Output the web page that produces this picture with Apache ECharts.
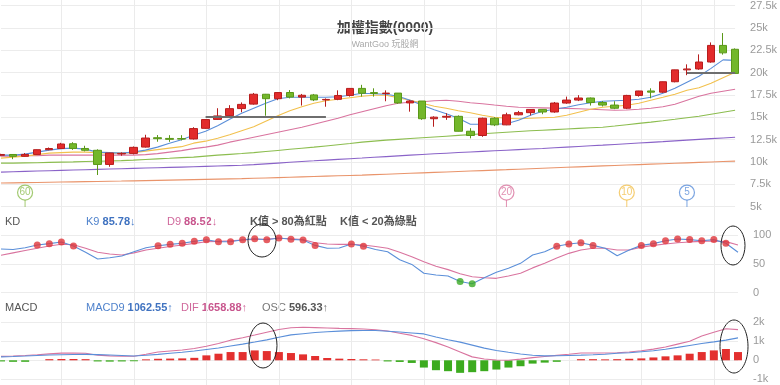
<!DOCTYPE html>
<html><head><meta charset="utf-8">
<script src="https://cdn.jsdelivr.net/npm/echarts@6/dist/echarts.min.js"></script>
<style>html,body{margin:0;padding:0;background:#fff}#c{width:780px;height:385px}</style>
</head><body><div id="c"></div>
<script>
const months = ['2019/07','2019/08','2019/09','2019/10','2019/11','2019/12',
 '2020/01','2020/02','2020/03','2020/04','2020/05','2020/06','2020/07','2020/08','2020/09','2020/10','2020/11','2020/12',
 '2021/01','2021/02','2021/03','2021/04','2021/05','2021/06','2021/07','2021/08','2021/09','2021/10','2021/11','2021/12',
 '2022/01','2022/02','2022/03','2022/04','2022/05','2022/06','2022/07','2022/08','2022/09','2022/10','2022/11','2022/12',
 '2023/01','2023/02','2023/03','2023/04','2023/05','2023/06','2023/07','2023/08','2023/09','2023/10','2023/11','2023/12',
 '2024/01','2024/02','2024/03','2024/04','2024/05','2024/06','2024/07','2024/08'];

const opens = [10730,10823,10618,10829,11358,11490,12026,11495,11292,9708,
 10880,10942,11650,12700,12620,12600,12560,13750,14750,15170,
 15960,16460,17567,17068,17760,17250,17490,16935,17000,17430,
 18220,17750,17650,17693,16593,16807,14826,15000,15095,13425,
 12949,14879,14138,15265,15504,15869,15579,16579,16916,17145,
 16635,16354,16001,17433,17931,17800,18966,20294,20397,21175,
 23032,22600];
const closes = [10823,10618,10829,11358,11490,11997,11495,11292,9708,10992,
 10942,11621,12665,12592,12516,12546,13722,14732,15138,15953,
 16431,17567,17068,17755,17247,17450,16935,16987,17428,18219,
 17674,17652,17693,16593,16807,14826,15000,15095,13425,12949,
 14879,14138,15265,15504,15869,15579,16579,16916,17145,16635,
 16354,16001,17433,17931,17800,18966,20294,20397,21175,23032,
 22199,19900];
const lows = [10620,10300,10580,10780,11300,11430,11340,11170,8523,9452,
 10680,10830,11600,12250,12240,12400,12500,13700,14700,15100,
 15550,16400,15159,16900,17100,16300,16800,16170,16900,17300,
 17300,17300,16780,16500,15616,14700,13928,14700,13400,12629,
 12800,14000,14100,15200,15200,15330,15500,16500,16800,16300,
 16200,15900,15900,17300,17115,17700,18900,19700,20300,21100,
 22000,19850];
const highs = [10900,10860,10980,11380,11605,12126,12197,11800,11400,11005,
 11060,11720,13031,13000,12984,12984,13877,14760,16000,16341,
 16650,17709,17600,17800,18034,17600,17600,17100,18000,18250,
 18619,18230,18000,17700,16900,16807,15100,15440,15200,13765,
 14950,15000,15500,15700,15900,15900,16700,17300,17463,17200,
 16800,16780,17500,17950,18232,18990,20310,20912,22028,23368,
 24416,22700];

const ma5 = [10751,10751,10862,11085,11309,11476,11532,11420,11085,11030,
 10974,11085,11309,11644,12090,12481,12984,13430,14045,14770,
 15440,15999,16557,17059,17227,17227,17227,17227,17283,17450,
 17674,17618,17562,17339,16892,16334,15831,15385,14882,14212,
 14212,14212,14268,14659,15217,15664,15887,16111,16390,16613,
 16780,16836,16892,17004,17227,17674,18232,18902,19572,20465,
 21414,21358];
const ma10 = [10416,10527,10639,10806,10974,11030,11085,11085,11030,10974,
 10974,11030,11197,11365,11532,11699,12090,12314,12649,13039,
 13486,13933,14547,15161,15720,16167,16557,16836,17004,17171,
 17339,17450,17450,17171,16892,16557,16222,15999,15720,15496,
 15217,14994,14882,14826,14882,14938,14994,15217,15552,15887,
 16111,16222,16334,16557,16900,17227,17562,18008,18288,18790,
 19404,20018];
const ma20 = [10639,10639,10695,10695,10751,10751,10751,10751,10751,10751,
 10751,10751,10806,10918,11085,11253,11476,11644,11867,12202,
 12481,12760,13039,13319,13598,13877,14212,14547,14882,15273,
 15608,15943,16278,16557,16669,16724,16836,16892,16780,16613,
 16501,16356,16222,16111,16077,16044,16010,15988,15943,15887,
 15831,15775,15798,15887,15999,16167,16446,16892,17339,17674,
 17897,18120];
const ma60 = [9857,9857,9880,9900,9935,9969,10000,10035,10070,10100,
 10136,10192,10260,10326,10393,10471,10527,10639,10751,10840,
 10930,11030,11150,11275,11400,11520,11644,11780,11912,12046,
 12202,12314,12425,12515,12605,12695,12783,12872,12962,13050,
 13140,13230,13319,13397,13475,13542,13610,13677,13743,13810,
 13877,14012,14156,14301,14447,14603,14770,14938,15105,15329,
 15552,15775];
const ma120 = [8852,8890,8928,8966,9004,9042,9080,9118,9156,9194,
 9232,9268,9304,9340,9376,9411,9450,9490,9530,9570,
 9612,9690,9775,9860,9948,10035,10113,10192,10270,10349,
 10427,10507,10588,10668,10749,10829,10898,10968,11037,11106,
 11175,11240,11305,11370,11434,11499,11573,11646,11720,11793,
 11867,11945,12023,12102,12180,12258,12342,12425,12509,12593,
 12676,12760];
const ma240 = [7624,7646,7668,7690,7713,7735,7758,7780,7802,7825,
 7847,7874,7900,7927,7954,7981,8008,8035,8061,8088,
 8115,8155,8195,8236,8276,8316,8356,8396,8437,8477,
 8517,8567,8618,8668,8718,8768,8819,8869,8920,8970,
 9020,9073,9125,9178,9230,9283,9335,9388,9440,9493,
 9545,9594,9642,9691,9740,9789,9837,9886,9935,9983,
 10032,10081];

const kValues = [75.7,75,78,82.7,85,88,81,70,58.4,60.7,
 63.6,71,78,81.5,83.8,85.6,89,91.9,88.4,88.4,
 91.9,93.6,91.9,94.8,92.5,91.3,82,77,77.5,84.4,
 80.4,75,71,57,49,33.6,30.7,28.9,19.5,15.6,
 26,35.3,42.2,50.9,65.3,71,80.4,84.4,86.7,82,
 77,64,74,82,85,90,93,92,90,92,
 85.78,70];
const dValues = [65,69,73,77,81,84,83,77,70,67,
 65.3,69,74,77,80,82.7,85.5,88.4,89,90,
 91.3,92.5,93,94.3,93.5,92,86.7,84.5,83.8,84,
 82.7,80,77,70,62.4,53.8,46,40,33,27.7,
 26,24.9,29,33.6,43,50.9,60,68.2,74,77,
 77,74,74,79,82,84.5,86.7,88,89,89.6,
 88.52,82.7];

const dif = [208,225,250,290,340,378,385,375,270,235,
 210,210,320,440,490,540,620,740,880,1060,
 1190,1330,1476,1620,1710,1736,1720,1700,1680,1665,
 1650,1610,1540,1420,1310,1130,930,700,440,180,
 70,15,0,60,139,200,260,320,382,385,
 385,400,440,500,590,700,850,1000,1280,1480,
 1658.88,1615];
const macd9 = [180,200,225,255,280,295,305,312,300,280,
 255,226,265,312,370,420,490,570,650,750,
 850,960,1076,1210,1340,1400,1460,1500,1535,1560,
 1565,1565,1530,1490,1440,1389,1230,1080,955,800,
 640,520,420,330,265,235,240,255,270,290,
 320,370,400,450,500,580,680,781,880,970,
 1062.55,1180];
const osc = [-60,-80,-80,0,60,70,70,60,-60,-70,
 -60,-50,50,80,90,100,130,260,347,434,
 434,521,486,434,382,312,226,122,87,70,
 52,40,-60,-87,-139,-382,-521,-573,-660,-625,
 -573,-486,-382,-312,-174,-122,-80,0,60,60,
 50,60,80,100,150,208,260,347,434,521,
 596.33,434];

const priceTicks = {min:5000, max:27500, step:2500};
const kdTicks = {min:0, max:100, step:50};
const macdTicks = {min:-1000, max:2000, step:1000};

const supportLevels = [
 {from:'2020/12', to:'2021/10', value:15000},
 {from:'2024/04', to:'2024/08', value:20000}
];
const markerLabels = ['60','20','10','5'];
const markerAt = ['2019/09','2023/01','2023/11','2024/04'];

const C = {red:'#e22b2b', redB:'#b71d1d', green:'#73b72b', greenB:'#5a9818',
 blue:'#5b8fd9', yellow:'#f2c14e', pink:'#d9749f', lime:'#8cbd4f', purple:'#8a63c8', orange:'#e9946b'};
const markerColors = [C.lime, C.pink, C.yellow, C.blue];
const FONT = 'Arial, "Liberation Sans", "Noto Sans CJK TC", sans-serif';
const HF = '11px ' + FONT, HB = 'bold 11px ' + FONT;
const GL = 1, GR = 42;

const chart = echarts.init(document.getElementById('c'));
function xAx(gi, split){
  return {type:'category', gridIndex:gi, data:months, boundaryGap:false,
    axisLine:{show:false}, axisTick:{show:false}, axisLabel:{show:false},
    axisPointer:{show:false},
    splitLine:{show:!!split, interval:function(i){return i%6===5;}, lineStyle:{color:'#ebebeb', width:1}}};
}
function yAx(gi, t, fmt){
  return {type:'value', gridIndex:gi, position:'right', min:t.min, max:t.max, interval:t.step,
    axisLine:{show:false}, axisTick:{show:false},
    axisLabel:{color:'#9a9a9a', fontSize:11, fontFamily:FONT, margin:15, formatter:fmt},
    splitLine:{lineStyle:{color:'#ececec', width:1}}};
}
function maLine(name, data, color){
  return {name, type:'line', xAxisIndex:0, yAxisIndex:0, data, showSymbol:false, symbol:'none',
    lineStyle:{color, width:1.1}, z:2, silent:true};
}
const option = {
  animation:false,
  grid:[
    {left:GL, right:GR, top:5, height:201.5},
    {left:GL, right:GR, top:235, height:57.7},
    {left:GL, right:GR, top:322.3, height:57},
    {left:GL, right:GR, top:0, bottom:0}
  ],
  xAxis:[xAx(0,false), xAx(1,false), xAx(2,false), xAx(3,true)],
  yAxis:[
    yAx(0, priceTicks, v => (v/1000)+'k'),
    yAx(1, kdTicks, v => String(v)),
    yAx(2, macdTicks, v => v===0 ? '0' : (v/1000)+'k'),
    {type:'value', gridIndex:3, show:false, splitLine:{show:false}}
  ],
  series:[
    maLine('MA240', ma240, C.orange),
    maLine('MA120', ma120, C.purple),
    maLine('MA60', ma60, C.lime),
    maLine('MA20', ma20, C.pink),
    maLine('MA10', ma10, C.yellow),
    maLine('MA5', ma5, C.blue),
    {type:'candlestick', xAxisIndex:0, yAxisIndex:0, z:3, clip:false, barWidth:8,
     data: months.map((m,i)=>[opens[i], closes[i], lows[i], highs[i]]),
     itemStyle:{color:C.red, color0:C.green, borderColor:C.redB, borderColor0:C.greenB, borderWidth:1},
     markLine:{silent:true, symbol:['none','none'], label:{show:false},
       lineStyle:{color:'#6e6e6e', width:2, type:'solid'},
       data: supportLevels.map(s=>[{coord:[s.from, s.value]},{coord:[s.to, s.value]}])}
    },
    {type:'scatter', xAxisIndex:0, yAxisIndex:0, z:4, silent:true,
     symbol:'rect', symbolSize:[1,7], symbolOffset:[0,11],
     data: markerAt.map((m,i)=>({value:[m, 6560], itemStyle:{color:markerColors[i]}}))},
    {type:'scatter', xAxisIndex:0, yAxisIndex:0, z:5, silent:true,
     symbol:'circle', symbolSize:15,
     data: markerAt.map((m,i)=>({value:[m, 6560],
        itemStyle:{color:'#fff', borderColor:markerColors[i], borderWidth:1.2},
        label:{show:true, formatter:markerLabels[i], color:markerColors[i], fontSize:10, fontFamily:FONT, position:'inside'}}))},
    {name:'K9', type:'line', xAxisIndex:1, yAxisIndex:1, data:kValues, showSymbol:false, symbol:'none',
     lineStyle:{color:C.blue, width:1.1}, z:3},
    {name:'D9', type:'line', xAxisIndex:1, yAxisIndex:1, data:dValues, showSymbol:false, symbol:'none',
     lineStyle:{color:C.pink, width:1.1}, z:2},
    {type:'scatter', xAxisIndex:1, yAxisIndex:1, z:5, symbolSize:7, itemStyle:{color:'#e0363b'},
     data: kValues.map((v,i)=> v>80 ? [months[i], v] : null).filter(Boolean)},
    {type:'scatter', xAxisIndex:1, yAxisIndex:1, z:5, symbolSize:7, itemStyle:{color:'#3aa923'},
     data: kValues.map((v,i)=> v<20 ? [months[i], v] : null).filter(Boolean)},
    {name:'OSC', type:'bar', xAxisIndex:2, yAxisIndex:2, barWidth:8, z:2,
     data: osc.map(v=>({value:v, itemStyle:{color: v>=0 ? '#e3302f' : '#3cab1f'}}))},
    {name:'DIF', type:'line', xAxisIndex:2, yAxisIndex:2, data:dif, showSymbol:false, symbol:'none',
     lineStyle:{color:C.pink, width:1.1}, z:3},
    {name:'MACD9', type:'line', xAxisIndex:2, yAxisIndex:2, data:macd9, showSymbol:false, symbol:'none',
     lineStyle:{color:C.blue, width:1.1}, z:3}
  ],
  graphic:[
    {type:'text', x:385, y:28.5, style:{text:'加權指數(0000)', fill:'#444', font:'bold 14px '+FONT, align:'center', verticalAlign:'middle'}},
    {type:'text', x:385, y:45, style:{text:'WantGoo 玩股網', fill:'#aaa', font:'9px '+FONT, align:'center', verticalAlign:'middle'}},
    {type:'text', x:5, y:222, style:{text:'KD', fill:'#555', font:HF, verticalAlign:'middle'}},
    {type:'text', x:86, y:222, style:{text:'{a|K9 }{b|85.78}{a|↓}', verticalAlign:'middle',
      rich:{a:{fill:'#4f82cc', font:HF}, b:{fill:'#3f72c0', font:HB}}}},
    {type:'text', x:167, y:222, style:{text:'{a|D9 }{b|88.52}{a|↓}', verticalAlign:'middle',
      rich:{a:{fill:'#d0699c', font:HF}, b:{fill:'#c8558d', font:HB}}}},
    {type:'text', x:250, y:222, style:{text:'K值 > 80為紅點', fill:'#555', font:HB, verticalAlign:'middle'}},
    {type:'text', x:340, y:222, style:{text:'K值 < 20為綠點', fill:'#555', font:HB, verticalAlign:'middle'}},
    {type:'text', x:5, y:307.5, style:{text:'MACD', fill:'#555', font:HF, verticalAlign:'middle'}},
    {type:'text', x:86, y:307.5, style:{text:'{a|MACD9 }{b|1062.55}{a|↑}', verticalAlign:'middle',
      rich:{a:{fill:'#4f82cc', font:HF}, b:{fill:'#3f72c0', font:HB}}}},
    {type:'text', x:181, y:307.5, style:{text:'{a|DIF }{b|1658.88}{a|↑}', verticalAlign:'middle',
      rich:{a:{fill:'#d0699c', font:HF}, b:{fill:'#c8558d', font:HB}}}},
    {type:'text', x:262, y:307.5, style:{text:'{a|OSC }{b|596.33}{a|↑}', verticalAlign:'middle',
      rich:{a:{fill:'#777', font:HF}, b:{fill:'#555', font:HB}}}},
    {type:'ellipse', shape:{cx:262, cy:240.5, rx:14, ry:16.5}, style:{fill:'transparent', stroke:'#222', lineWidth:1}, z:10},
    {type:'ellipse', shape:{cx:733, cy:245.5, rx:12, ry:19.5}, style:{fill:'transparent', stroke:'#222', lineWidth:1}, z:10},
    {type:'ellipse', shape:{cx:263, cy:345.5, rx:14, ry:22.5}, style:{fill:'transparent', stroke:'#222', lineWidth:1}, z:10},
    {type:'ellipse', shape:{cx:734, cy:346.5, rx:14, ry:26.5}, style:{fill:'transparent', stroke:'#222', lineWidth:1}, z:10}
  ]
};
chart.setOption(option);
</script>
</body></html>
